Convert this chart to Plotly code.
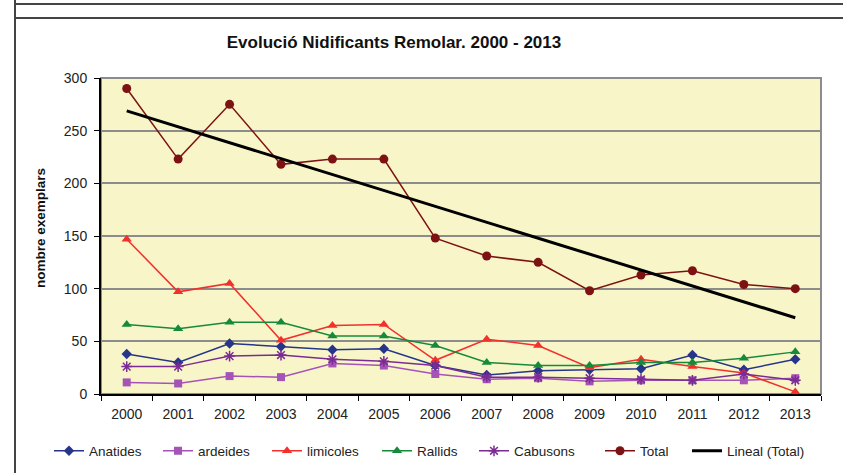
import numpy as np
import plotly.graph_objects as go

years = ["2000", "2001", "2002", "2003", "2004", "2005", "2006",
         "2007", "2008", "2009", "2010", "2011", "2012", "2013"]
anatides = [38, 30, 48, 45, 42, 43, 27, 18, 22, 23, 24, 37, 23, 33]
ardeides = [11, 10, 17, 16, 29, 27, 19, 14, 15, 12, 13, 13, 13, 15]
limicoles = [147, 97, 105, 51, 65, 66, 32, 52, 46, 25, 33, 26, 20, 2]
rallids = [66, 62, 68, 68, 55, 55, 46, 30, 27, 27, 30, 30, 34, 40]
cabusons = [26, 26, 36, 37, 33, 31, 27, 16, 16, 15, 14, 13, 19, 13]
total = [290, 223, 275, 218, 223, 223, 148, 131, 125, 98, 113, 117, 104, 100]

y_ticks = [0, 50, 100, 150, 200, 250, 300]

idx = np.arange(len(years))
slope, intercept = np.polyfit(idx, total, 1)
trend = (intercept + slope * idx).tolist()

FONT = "Liberation Sans, Arial, sans-serif"

series = [
    ("Anatides", anatides, "#26358A", "diamond", 8),
    ("ardeides", ardeides, "#A653B8", "square", 8),
    ("limicoles", limicoles, "#F2302C", "triangle-up", 9),
    ("Rallids", rallids, "#168A3A", "triangle-up", 9),
    ("Cabusons", cabusons, "#7A2C94", "asterisk-open", 9),
    ("Total", total, "#7D1212", "circle", 9),
]

W, H = 843, 473
PL, PR, PT, PB = 101, 821, 78, 394   # plot area in page pixels
L, T = PL, PT
R = W - PR
B = H - PB
pw, ph = PR - PL, PB - PT


def px(x):
    return (x - PL) / pw


def py(y):
    return (PB - y) / ph


# legend entry start positions (page px), one legend box per entry
legend_x = [54, 163, 272, 382, 479, 605, 692]
legend_ids = ["legend"] + ["legend%d" % i for i in range(2, 8)]

fig = go.Figure()
for i, (name, vals, color, sym, size) in enumerate(series):
    marker = dict(symbol=sym, size=size, color=color)
    if sym == "asterisk-open":
        marker["line"] = dict(color=color, width=1.5)
    fig.add_trace(go.Scatter(
        x=years, y=vals, name=name, mode="lines+markers",
        line=dict(color=color, width=1.5), marker=marker,
        legend=legend_ids[i],
    ))

fig.add_trace(go.Scatter(
    x=years, y=trend, name="Lineal (Total)", mode="lines",
    line=dict(color="#000000", width=3), legend=legend_ids[6],
))

shapes = [
    dict(type="line", xref="paper", yref="paper", x0=px(15), x1=px(15), y0=py(0), y1=py(480),
         line=dict(color="#444444", width=2)),
    dict(type="line", xref="paper", yref="paper", x0=px(15), x1=px(850), y0=py(4), y1=py(4),
         line=dict(color="#444444", width=2)),
    dict(type="line", xref="paper", yref="paper", x0=px(15), x1=px(850), y0=py(18), y1=py(18),
         line=dict(color="#444444", width=2)),
    dict(type="rect", xref="paper", yref="paper", x0=0, x1=1, y0=0, y1=1,
         line=dict(color="#8C8C8C", width=2), layer="below"),
]

annotations = [
    dict(text="<b>nombre exemplars</b>", xref="paper", yref="paper",
         x=px(40), y=py(228), xanchor="center", yanchor="middle",
         textangle=-90, showarrow=False,
         font=dict(family=FONT, size=13.5, color="#111111")),
]

legends = {}
for lid, lx in zip(legend_ids, legend_x):
    legends[lid] = dict(orientation="h", x=px(lx - 5), xanchor="left",
                        y=py(451), yanchor="middle",
                        font=dict(family=FONT, size=13.5, color="#222222"),
                        bgcolor="rgba(0,0,0,0)", itemwidth=30)

fig.update_layout(
    width=W, height=H,
    margin=dict(l=L, r=R, t=T, b=B, autoexpand=False),
    paper_bgcolor="#FFFFFF",
    plot_bgcolor="#F8F6C8",
    font=dict(family=FONT, size=13.5, color="#222222"),
    title=dict(text="<b>Evolució Nidificants Remolar. 2000 - 2013</b>",
               font=dict(family=FONT, size=17, color="#111111"),
               x=394 / W, xanchor="center", xref="container",
               y=1 - 42 / H, yanchor="middle", yref="container"),
    showlegend=True,
    shapes=shapes,
    annotations=annotations,
    xaxis=dict(type="category", range=[-0.5, 13.5], tickson="boundaries",
               ticks="outside", ticklen=5, tickcolor="#000000",
               showline=True, linecolor="#000000", linewidth=2,
               showgrid=False, zeroline=False, automargin=False,
               ticklabelstandoff=6,
               tickfont=dict(family=FONT, size=14, color="#222222")),
    yaxis=dict(range=[0, 300], tickvals=y_ticks, ticks="outside", ticklen=5,
               tickcolor="#000000", showline=True, linecolor="#000000", linewidth=2,
               showgrid=True, gridcolor="#8C8C8C", gridwidth=1.5, zeroline=False,
               automargin=False, ticklabelstandoff=4,
               tickfont=dict(family=FONT, size=14, color="#222222")),
    **legends,
)

fig.write_html("out.html", config={"displayModeBar": False},
               post_script="document.body.style.margin='0';document.body.style.overflow='hidden';")
